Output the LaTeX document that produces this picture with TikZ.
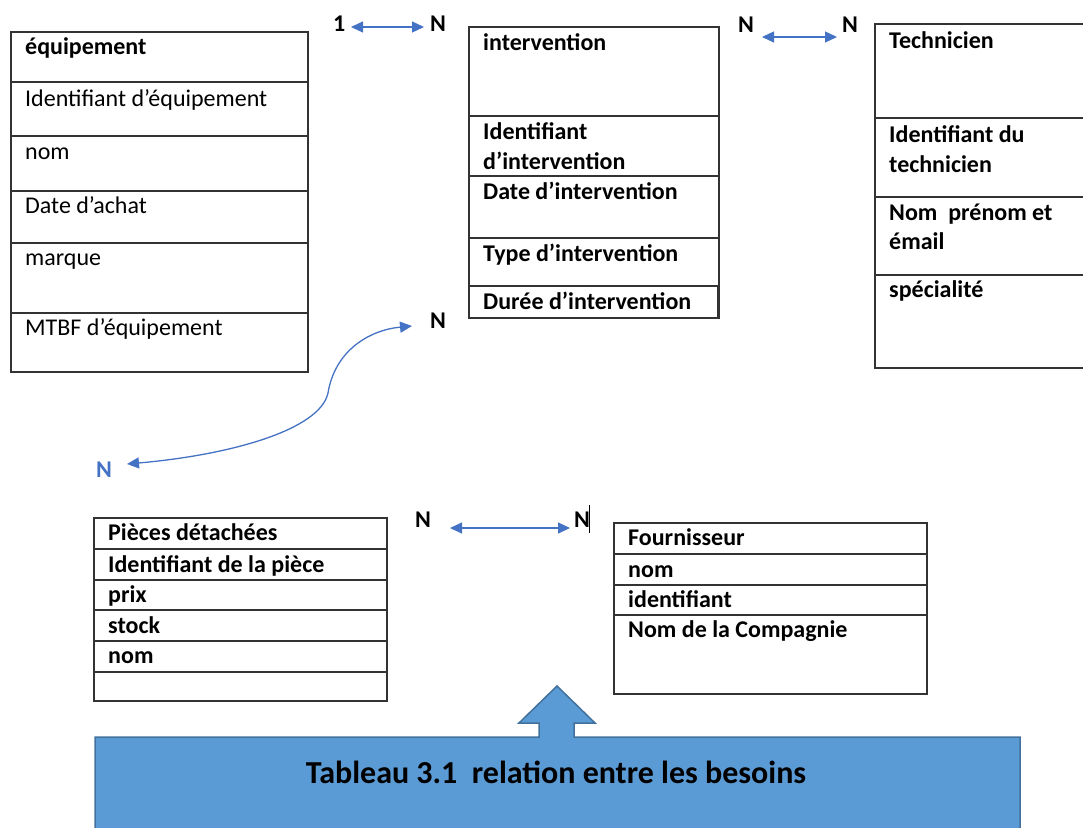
\documentclass[tikz,border=0pt]{standalone}
\usepackage{fontspec}
\setmainfont{Carlito}
\usepackage{tikz}
\usetikzlibrary{arrows.meta}
\usetikzlibrary{positioning}
\definecolor{lienbleu}{HTML}{4472C4}
\definecolor{calbleu}{HTML}{5B9BD5}
\definecolor{calbord}{HTML}{41719C}

\begin{document}
\begin{tikzpicture}[x=1pt, y=-1pt]
\tikzstyle{champ}=[anchor=base west, inner sep=0pt, font=\fontsize{24}{30}\selectfont];
\tikzstyle{gras}=[champ, font=\fontsize{24}{30}\selectfont\bfseries];
\tikzstyle{card}=[gras];
\tikzstyle{cadre}=[draw=black!80, line width=1.2pt];
\tikzstyle{lien}=[lienbleu, line width=1.3pt,
   {Triangle[length=12pt,width=11pt]}-{Triangle[length=12pt,width=11pt]}];
\useasboundingbox (0,0) rectangle (1083,827);

% equipement
\draw[cadre] (11,32) rectangle (308,372);
\foreach \y in {82,136,191,243,313}
{\draw[cadre] (11,\y) -- (308,\y);}
\node[gras] (eq0) at (25,54) {équipement};
\foreach \t/\y [count=\i] in {Identifiant d’équipement/106, nom/159, Date d’achat/213, marque/265, MTBF d’équipement/335}
{\node[champ] (eq\i) at (25,\y) {\t};}

% intervention
\draw[cadre] (469,27) rectangle (719,318);
\foreach \y in {116,176,238}
{\draw[cadre] (469,\y) -- (719,\y);}
\draw[cadre, line width=2pt] (469,286) rectangle (718,318);
\foreach \t/\y [count=\i] in {intervention/50, Identifiant/139, d’intervention/169, Date d’intervention/199, Type d’intervention/261, Durée d’intervention/309}
{\node[gras] (in\i) at (483,\y) {\t};}

% technicien
\draw[cadre] (875,24) rectangle (1100,368);
\foreach \y in {118,197,275}
{\draw[cadre] (875,\y) -- (1100,\y);}
\foreach \t/\y [count=\i] in {Technicien/48, Identifiant du/142, technicien/172, Nom\ \ prénom et/220, émail/249, spécialité/297}
{\node[gras] (te\i) at (889,\y) {\t};}

% pieces detachees
\draw[cadre] (94,518) rectangle (387,701);
\foreach \y in {549,580,610,641,672}
{\draw[cadre] (94,\y) -- (387,\y);}
\foreach \t/\y [count=\i] in {Pièces détachées/540, Identifiant de la pièce/572, prix/602, stock/633, nom/663}
{\node[gras] (pi\i) at (108,\y) {\t};}

% fournisseur
\draw[cadre] (614,523) rectangle (927,694);
\foreach \y in {554,585,615}
{\draw[cadre] (614,\y) -- (927,\y);}
\foreach \t/\y [count=\i] in {Fournisseur/545, nom/577, identifiant/607, Nom de la Compagnie/637}
{\node[gras] (fo\i) at (628,\y) {\t};}

% cardinalites
\node[card] (c1) at (333,31) {1};
\node[card] (c2) at (430,31) {N};
\node[card] (c3) at (738,32) {N};
\node[card] (c4) at (842,32) {N};
\node[card] (c5) at (430,328) {N};
\node[card, text=lienbleu] (c6) at (96,477) {N};
\node[card] (c7) at (415,527) {N};
\node[card] (c8) at (574,527) {N};
\draw[black, line width=0.9pt] (589,505) -- (589,533);

% liens
\coordinate (l1a) at (351,27);  \coordinate (l1b) at (424,27);
\coordinate (l2a) at (762,37);  \coordinate (l2b) at (837,37);
\coordinate (l3a) at (127,464); \coordinate (l3m) at (328,393); \coordinate (l3b) at (412,326);
\coordinate (l4a) at (450,528); \coordinate (l4b) at (570,528);
\draw[lien] (l1a) -- (l1b);
\draw[lien] (l2a) -- (l2b);
\draw[lien] (l3a) .. controls (230,455) and (320,430) .. (l3m)
   .. controls (335,350) and (370,330) .. (l3b);
\draw[lien] (l4a) -- (l4b);

% legende
\draw[fill=calbleu, draw=calbord, line width=1.5pt] (95,845) -- (95,737) -- (539,737) -- (539,723)
   -- (519,723) -- (557,686) -- (595,723) -- (574,723) -- (574,737) -- (1020,737) -- (1020,845) -- cycle;
\node[anchor=base, inner sep=0pt, font=\fontsize{32}{38}\selectfont\bfseries] (legende) at (556,783)
   {Tableau 3.1\ \ relation entre les besoins};
\end{tikzpicture}
\end{document}
